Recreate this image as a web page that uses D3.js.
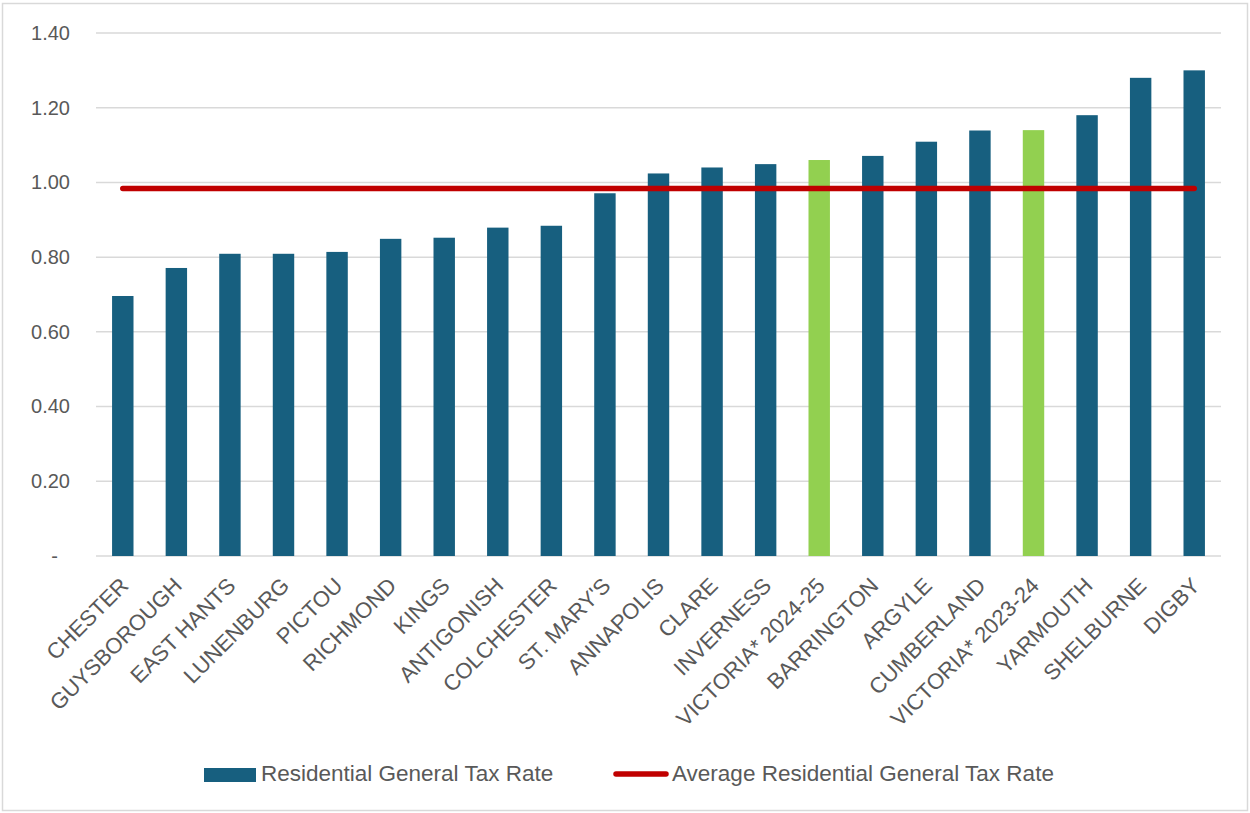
<!DOCTYPE html>
<html>
<head>
<meta charset="utf-8">
<script src="https://cdn.jsdelivr.net/npm/d3@7"></script>
<style>
  body { margin: 0; background: #fff; }
  svg { display: block; }
</style>
</head>
<body>
<div id="chart"></div>
<script>
var categories = ["CHESTER", "GUYSBOROUGH", "EAST HANTS", "LUNENBURG", "PICTOU", "RICHMOND",
  "KINGS", "ANTIGONISH", "COLCHESTER", "ST. MARY'S", "ANNAPOLIS", "CLARE", "INVERNESS",
  "VICTORIA* 2024-25", "BARRINGTON", "ARGYLE", "CUMBERLAND", "VICTORIA* 2023-24",
  "YARMOUTH", "SHELBURNE", "DIGBY"];
var rates = [0.696, 0.771, 0.809, 0.809, 0.814, 0.849, 0.852, 0.879, 0.884, 0.971, 1.024,
  1.040, 1.049, 1.060, 1.071, 1.109, 1.139, 1.140, 1.180, 1.280, 1.300];
var highlighted = ["VICTORIA* 2024-25", "VICTORIA* 2023-24"];
var averageRate = 0.984;
var yTicks = [0, 0.2, 0.4, 0.6, 0.8, 1.0, 1.2, 1.4];
var seriesNames = ["Residential General Tax Rate", "Average Residential General Tax Rate"];

var width = 1250, height = 813;
var margin = {top: 33, right: 29, bottom: 257, left: 96};

var blue = "#175f7f", green = "#92d050", red = "#c00000", grid = "#d9d9d9", textCol = "#595959";
var font = "'Liberation Sans', Arial, sans-serif";

var svg = d3.select("#chart").append("svg")
    .attr("width", width)
    .attr("height", height);

// outer chart border
svg.append("rect")
    .attr("x", 2.5).attr("y", 3.5)
    .attr("width", width - 5).attr("height", height - 6)
    .attr("fill", "#fff")
    .attr("stroke", grid)
    .attr("stroke-width", 1.5);

var g = svg.append("g")
    .attr("transform", "translate(" + margin.left + "," + margin.top + ")");

var w = width - margin.left - margin.right,
    h = height - margin.top - margin.bottom;

var x = d3.scaleBand()
    .domain(categories)
    .range([0, w])
    .paddingInner(0.6)
    .paddingOuter(0.3);

var y = d3.scaleLinear()
    .domain([0, 1.4])
    .range([h, 0]);

// gridlines
g.append("g").selectAll("line")
  .data(yTicks)
  .enter().append("line")
    .attr("x1", 0).attr("x2", w)
    .attr("y1", function(d) { return y(d); })
    .attr("y2", function(d) { return y(d); })
    .attr("stroke", grid)
    .attr("stroke-width", 1.5);

// y axis labels
var yAxis = d3.axisLeft(y)
    .tickValues(yTicks)
    .tickSize(0)
    .tickPadding(26)
    .tickFormat(function(d) { return d === 0 ? "-" : d3.format(".2f")(d); });

g.append("g")
    .call(yAxis)
    .call(function(s) { s.select(".domain").remove(); })
    .selectAll("text")
    .attr("fill", textCol)
    .style("font-family", font)
    .style("font-size", "20px")
    .attr("dx", function(d) { return d === 0 ? "-12px" : 0; });

// bars
g.append("g").selectAll("rect")
  .data(categories)
  .enter().append("rect")
    .attr("x", function(d) { return x(d); })
    .attr("y", function(d, i) { return y(rates[i]); })
    .attr("width", x.bandwidth())
    .attr("height", function(d, i) { return h - y(rates[i]); })
    .attr("fill", function(d) { return highlighted.indexOf(d) >= 0 ? green : blue; });

// average line
var avgLine = d3.line()
    .x(function(d) { return x(d) + x.bandwidth() / 2; })
    .y(function() { return y(averageRate); });

g.append("path")
    .datum([categories[0], categories[categories.length - 1]])
    .attr("d", avgLine)
    .attr("fill", "none")
    .attr("stroke", red)
    .attr("stroke-width", 5.5)
    .attr("stroke-linecap", "round");

// x axis labels
var xAxis = d3.axisBottom(x).tickSize(0).tickPadding(0);
g.append("g")
    .attr("transform", "translate(0," + h + ")")
    .call(xAxis)
    .call(function(s) { s.select(".domain").remove(); })
    .selectAll("text")
    .attr("fill", textCol)
    .style("font-family", font)
    .style("font-size", "22px")
    .attr("text-anchor", "end")
    .attr("x", 0).attr("y", 0).attr("dy", 0)
    .attr("transform", "translate(7,31) rotate(-45)");

// legend
var legend = svg.append("g")
    .style("font-family", font)
    .style("font-size", "22.5px");

legend.append("rect")
    .attr("x", 204).attr("y", 768)
    .attr("width", 52).attr("height", 14)
    .attr("fill", blue);
legend.append("text")
    .attr("x", 261).attr("y", 781)
    .attr("fill", textCol)
    .text(seriesNames[0]);

legend.append("line")
    .attr("x1", 616).attr("x2", 666)
    .attr("y1", 774).attr("y2", 774)
    .attr("stroke", red)
    .attr("stroke-width", 5.5)
    .attr("stroke-linecap", "round");
legend.append("text")
    .attr("x", 672).attr("y", 781)
    .attr("fill", textCol)
    .text(seriesNames[1]);
</script>
</body>
</html>
